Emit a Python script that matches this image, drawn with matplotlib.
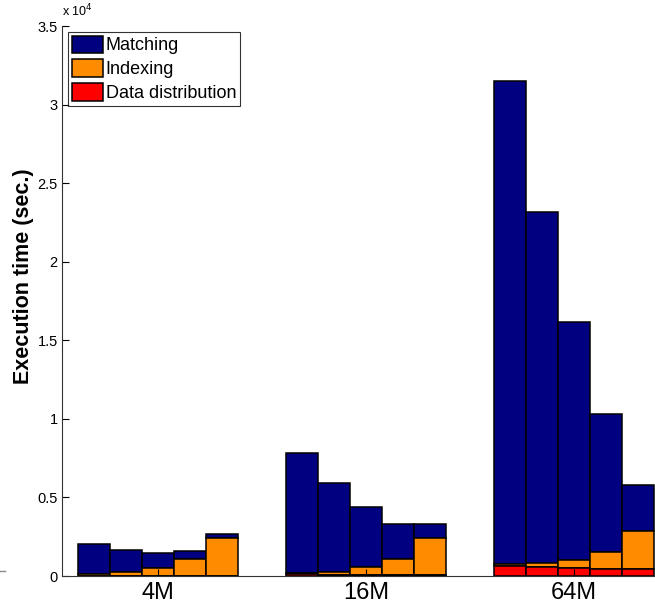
import matplotlib
matplotlib.use("Agg")
import matplotlib.pyplot as plt
import numpy as np

plt.rcParams['font.family'] = ['Liberation Sans', 'DejaVu Sans']

groups = ["4M", "16M", "64M"]
# components per group, 5 bars each (seconds)
dist = [
    [30, 30, 30, 30, 30],
    [100, 90, 80, 70, 60],
    [660, 570, 510, 450, 450],
]
indexing = [
    [100, 220, 460, 1030, 2390],
    [70, 180, 520, 1030, 2380],
    [100, 240, 490, 1060, 2420],
]
matching = [
    [1920, 1410, 1000, 550, 270],
    [7640, 5630, 3780, 2190, 850],
    [30710, 22370, 15180, 8790, 2930],
]
legend_labels = ["Matching", "Indexing", "Data distribution"]
yticks = [0, 5000, 10000, 15000, 20000, 25000, 30000, 35000]
ytick_labels = ["0", "0.5", "1", "1.5", "2", "2.5", "3", "3.5"]

c_match = "#000080"
c_index = "#FF8C00"
c_dist = "#FF0000"

fig = plt.figure(figsize=(6.55, 6.0), dpi=100)
ax = fig.add_axes([62/655, 24/600, 593/655, 550/600])

width = 0.154
offsets = (np.arange(5) - 2) * width
gx = np.arange(1, len(groups) + 1)
for gi in range(len(groups)):
    x = gx[gi] + offsets
    d = np.array(dist[gi]); ix = np.array(indexing[gi]); m = np.array(matching[gi])
    ax.bar(x, m, width, bottom=d + ix, color=c_match, edgecolor="black", linewidth=1.1,
           label=legend_labels[0] if gi == 0 else None)
    ax.bar(x, ix, width, bottom=d, color=c_index, edgecolor="black", linewidth=1.1,
           label=legend_labels[1] if gi == 0 else None)
    ax.bar(x, d, width, color=c_dist, edgecolor="black", linewidth=1.1,
           label=legend_labels[2] if gi == 0 else None)

ax.set_xlim(1 - 96/208, 3 + 81/208)
ax.set_ylim(0, 35000)
ax.set_yticks(yticks)
ax.set_yticklabels(ytick_labels, fontsize=10.5)
ax.set_xticks(gx)
ax.set_xticklabels(groups, fontsize=17)
ax.tick_params(axis='y', direction='in', length=5, pad=3)
ax.tick_params(axis='x', direction='in', length=5, pad=4)
for s in ["top", "right"]:
    ax.spines[s].set_visible(False)
ax.spines["left"].set_color("#333333")
ax.spines["bottom"].set_color("#333333")
ax.set_ylabel("Execution time (sec.)", fontsize=15.5, fontweight="bold")
ax.yaxis.set_label_coords(-0.047, 0.545)

ax.text(0.0, 1.012, r"x 10$^4$", transform=ax.transAxes, fontsize=9, ha="left", va="bottom")

handles, labels = ax.get_legend_handles_labels()
leg = ax.legend(handles, labels,
                loc="upper left", bbox_to_anchor=(6/593, 1 - 6/550), fontsize=13,
                frameon=True, fancybox=False, borderpad=0.2, labelspacing=0.28,
                handlelength=1.72, handleheight=1.1, handletextpad=0.17, borderaxespad=0)
leg.get_frame().set_edgecolor("black")
leg.get_frame().set_linewidth(0.8)

fig.add_artist(plt.Line2D([0, 5/655], [1 - 571/600, 1 - 571/600], color="#888888", lw=1))

fig.savefig("out.png", dpi=100)
